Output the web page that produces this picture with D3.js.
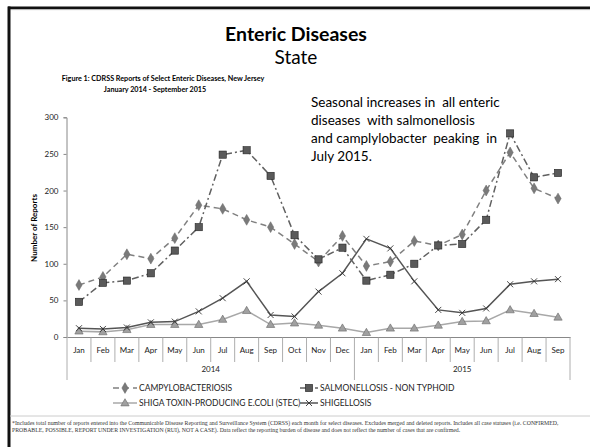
<!DOCTYPE html>
<html>
<head>
<meta charset="utf-8">
<script src="https://cdnjs.cloudflare.com/ajax/libs/d3/7.8.5/d3.min.js"></script>
<style>
  body { margin: 0; background: #fff; }
  svg { display: block; font-family: Lato, "Noto Sans", sans-serif; }
</style>
</head>
<body>
<div id="chart"></div>
<script>
// chart data
var months = ["Jan","Feb","Mar","Apr","May","Jun","Jul","Aug","Sep","Oct","Nov","Dec",
              "Jan","Feb","Mar","Apr","May","Jun","Jul","Aug","Sep"];
var years = ["2014", "2015"];
var yearSpans = [12, 9];
var yTicks = [0, 50, 100, 150, 200, 250, 300];

var campylo = [71,82,113,107,135,180,175,160,150,127,103,138,97,103,131,125,140,200,252,203,189];
var salmo   = [48,74,77,87,118,150,249,255,220,139,106,122,77,85,100,125,127,160,278,218,224];
var stec    = [8,7,10,17,17,17,24,36,17,19,16,12,6,12,12,16,21,22,37,32,27];
var shigel  = [12,11,13,20,21,35,53,76,30,28,62,87,134,121,76,37,33,39,72,76,79];

var W = 590, H = 447;
var svg = d3.select("#chart").append("svg")
    .attr("width", W).attr("height", H);

// slide frame
svg.append("line").attr("x1", 8).attr("x2", 590).attr("y1", 7.8).attr("y2", 7.8)
   .attr("stroke", "#111").attr("stroke-width", 2.6);
svg.append("line").attr("x1", 10).attr("x2", 590).attr("y1", 9.6).attr("y2", 9.6)
   .attr("stroke", "#999").attr("stroke-width", 0.8);
svg.append("line").attr("x1", 9).attr("x2", 9).attr("y1", 6.5).attr("y2", 447)
   .attr("stroke", "#111").attr("stroke-width", 3);

// titles
svg.append("text").attr("x", 296).attr("y", 41).attr("text-anchor", "middle")
   .style("font-size", "19.5px").style("font-weight", "bold").text("Enteric Diseases");
svg.append("text").attr("x", 296).attr("y", 64).attr("text-anchor", "middle")
   .style("font-size", "19px").text("State");
svg.append("text").attr("x", 163).attr("y", 81).attr("text-anchor", "middle")
   .style("font-size", "7.2px").style("font-weight", "bold")
   .text("Figure 1: CDRSS Reports of Select Enteric Diseases, New Jersey");
svg.append("text").attr("x", 155).attr("y", 92).attr("text-anchor", "middle")
   .style("font-size", "7.2px").style("font-weight", "bold")
   .text("January 2014 - September 2015");

var note = ["Seasonal increases in  all enteric", "diseases  with salmonellosis",
            "and camplylobacter  peaking  in", "July 2015."];
svg.append("text").attr("x", 311).attr("y", 107)
   .style("font-size", "13.5px").style("white-space", "pre")
   .selectAll("tspan").data(note).enter().append("tspan")
   .attr("x", 311).attr("dy", function(d, i) { return i ? 18 : 0; })
   .text(function(d) { return d; });

// scales
var x = d3.scaleBand().domain(d3.range(months.length)).range([67, 570]);
var y = d3.scaleLinear().domain([0, 300]).range([337, 117.3]);
var cx = function(i) { return x(i) + x.bandwidth() / 2; };

// y axis
var yAxis = svg.append("g").attr("transform", "translate(66.5,0)")
   .call(d3.axisLeft(y).tickValues(yTicks).tickSize(3).tickPadding(5));
yAxis.select(".domain").attr("stroke", "#888");
yAxis.selectAll(".tick line").attr("stroke", "#888");
yAxis.selectAll("text").style("font-size", "8px").style("font-family", "Lato, sans-serif").attr("fill", "#222");

svg.append("text").attr("transform", "translate(37,228) rotate(-90)")
   .attr("text-anchor", "middle").style("font-size", "8px").style("font-weight", "bold")
   .text("Number of Reports");

// x axis (month boxes + year groups)
var xAxis = svg.append("g").attr("transform", "translate(0,337)")
   .call(d3.axisBottom(x).tickSize(0).tickPadding(10).tickFormat(function(i) { return months[i]; }));
xAxis.select(".domain").attr("stroke", "#888");
xAxis.selectAll("text").style("font-size", "8px").style("font-family", "Lato, sans-serif").attr("fill", "#222");

svg.selectAll(".msep").data(d3.range(months.length + 1)).enter().append("line")
   .attr("x1", function(i) { return i < months.length ? x(i) : x.range()[1]; })
   .attr("x2", function(i) { return i < months.length ? x(i) : x.range()[1]; })
   .attr("y1", 337).attr("y2", 362).attr("stroke", "#999").attr("stroke-width", 0.8);

var yearStart = [0, yearSpans[0]];
svg.selectAll(".ysep").data([0, yearSpans[0], months.length]).enter().append("line")
   .attr("x1", function(i) { return i < months.length ? x(i) : x.range()[1]; })
   .attr("x2", function(i) { return i < months.length ? x(i) : x.range()[1]; })
   .attr("y1", 362).attr("y2", 380).attr("stroke", "#999").attr("stroke-width", 0.8);
svg.selectAll(".ylab").data(years).enter().append("text")
   .attr("x", function(d, k) {
      var a = x(yearStart[k]);
      var last = yearStart[k] + yearSpans[k] - 1;
      var b = x(last) + x.bandwidth();
      return (a + b) / 2;
   })
   .attr("y", 372).attr("text-anchor", "middle").style("font-size", "8px").attr("fill", "#222")
   .text(function(d) { return d; });

// series
var line = d3.line().x(function(d, i) { return cx(i); }).y(function(d) { return y(d); });

var series = [
  { name: "CAMPYLOBACTERIOSIS", data: campylo, color: "#808080", dash: "6,4", marker: "diamond", fill: "#7a7a7a" },
  { name: "SALMONELLOSIS - NON TYPHOID", data: salmo, color: "#606060", dash: "7,3,2,3", marker: "square", fill: "#5a5a5a" },
  { name: "SHIGA TOXIN-PRODUCING E.COLI (STEC)", data: stec, color: "#a8a8a8", dash: null, marker: "triangle", fill: "#a0a0a0" },
  { name: "SHIGELLOSIS", data: shigel, color: "#555555", dash: null, marker: "cross", fill: "none" }
];

function drawMarker(g, type, px, py, s) {
  if (type === "diamond") {
    g.append("path").attr("d", d3.symbol().type(d3.symbolDiamond).size(34)())
     .attr("transform", "translate(" + px + "," + py + ")")
     .attr("fill", s.fill).attr("stroke", "#666").attr("stroke-width", 0.5);
  } else if (type === "square") {
    g.append("rect").attr("x", px - 3.6).attr("y", py - 3.6).attr("width", 7.2).attr("height", 7.2)
     .attr("fill", s.fill).attr("stroke", "#222").attr("stroke-width", 0.6);
  } else if (type === "triangle") {
    g.append("path").attr("d", d3.symbol().type(d3.symbolTriangle).size(30)())
     .attr("transform", "translate(" + px + "," + (py + 0.5) + ")")
     .attr("fill", s.fill).attr("stroke", "#666").attr("stroke-width", 0.6);
  } else {
    g.append("path").attr("d", "M-3,-3L3,3M-3,3L3,-3")
     .attr("transform", "translate(" + px + "," + py + ")")
     .attr("stroke", "#333").attr("stroke-width", 0.9).attr("fill", "none");
  }
}

var drawOrder = [2, 3, 0, 1];
drawOrder.forEach(function(k) {
  var s = series[k];
  var g = svg.append("g");
  g.append("path").datum(s.data).attr("d", line)
   .attr("fill", "none").attr("stroke", s.color).attr("stroke-width", 1.5)
   .attr("stroke-dasharray", s.dash);
  s.data.forEach(function(v, i) { drawMarker(g, s.marker, cx(i), y(v), s); });
});

// legend
var legendPos = [
  { x: 113, y: 388, tx: 139 },
  { x: 300, y: 388, tx: 320 },
  { x: 113, y: 403, tx: 139 },
  { x: 300, y: 403, tx: 320 }
];
series.forEach(function(s, k) {
  var p = legendPos[k];
  var g = svg.append("g");
  var lw = p.tx - p.x - 2;
  g.append("line").attr("x1", p.x).attr("x2", p.x + lw).attr("y1", p.y).attr("y2", p.y)
   .attr("stroke", s.color).attr("stroke-width", 1.5).attr("stroke-dasharray", s.dash);
  drawMarker(g, s.marker, p.x + lw / 2, p.y, s);
  g.append("text").attr("x", p.tx).attr("y", p.y + 3).style("font-size", "8.5px").attr("fill", "#222")
   .text(s.name);
});

// footnote
svg.append("line").attr("x1", 10).attr("x2", 590).attr("y1", 416).attr("y2", 416)
   .attr("stroke", "#ccc").attr("stroke-width", 1);
var foot = [
  "*Includes total number of reports entered into the Communicable Disease Reporting and Surveillance System (CDRSS) each month for select diseases. Excludes merged and deleted reports. Includes all case statuses (i.e. CONFIRMED,",
  "PROBABLE, POSSIBLE, REPORT UNDER INVESTIGATION (RUI), NOT A CASE). Data reflect the reporting burden of disease and does not reflect the number of cases that are confirmed."
];
svg.selectAll(".foot").data(foot).enter().append("text")
   .attr("x", 12).attr("y", function(d, i) { return 425 + i * 7; })
   .style("font-family", "'Liberation Serif', 'DejaVu Serif', serif").style("font-size", "5.8px").attr("fill", "#333")
   .text(function(d) { return d; });
</script>
</body>
</html>
